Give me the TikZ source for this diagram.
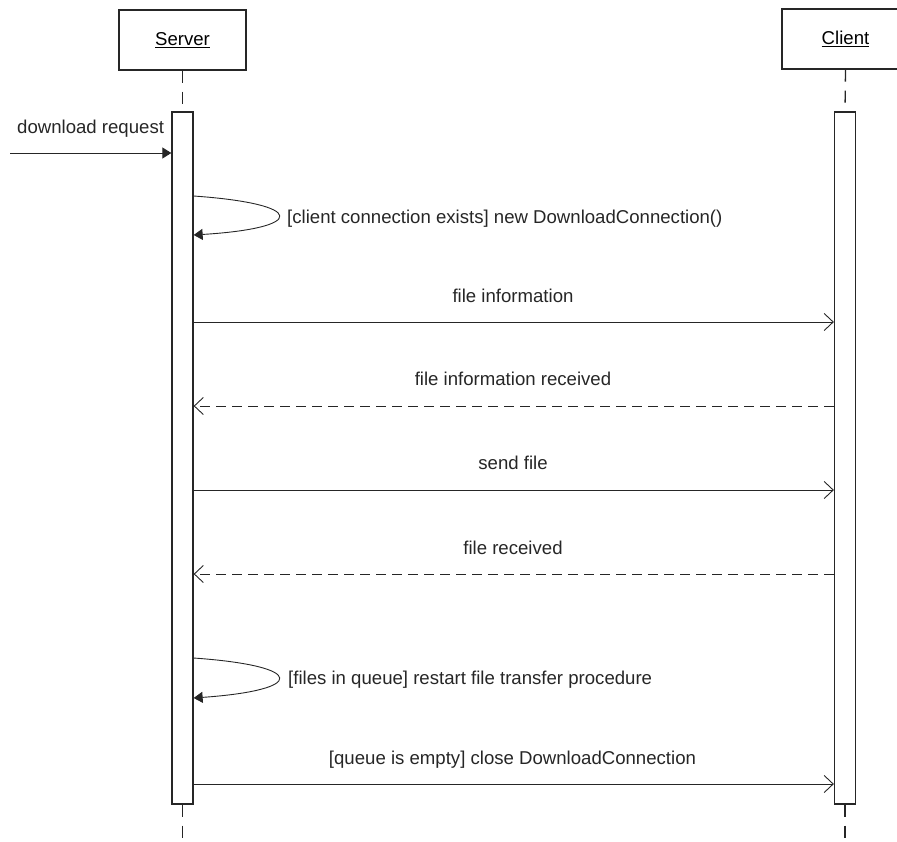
\documentclass[tikz,border=0pt]{standalone}
\usepackage{fontspec}
\setmainfont{Liberation Sans}
\usetikzlibrary{arrows.meta}
\begin{document}
\begin{tikzpicture}[x=1pt,y=-1pt,
  actor/.style={draw=black!85,line width=1.3pt,minimum width=127pt,minimum height=60pt,inner sep=0pt,font=\fontsize{18.6}{22}\selectfont},
  act/.style={draw=black!85,line width=1.3pt,fill=white,minimum width=21pt,minimum height=692pt,inner sep=0pt},
  lifeline/.style={draw=black!85,line width=1.3pt,dash pattern=on 12pt off 9pt},
  msgsync/.style={draw=black!85,line width=0.9pt,-{Triangle[length=9pt,width=11pt]}},
  msg/.style={draw=black!85,line width=0.9pt,-{Straight Barb[length=9pt,width=17pt,line width=0.9pt]}},
  reply/.style={msg,dash pattern=on 10pt off 6pt},
  lbl/.style={anchor=base,inner sep=0pt,text=black!85,font=\fontsize{18.6}{22}\selectfont},
]
\useasboundingbox (0,0) rectangle (897,841);
\clip (0,0) rectangle (897,841);
\node[actor] (server) at (182.5,40) {\underline{Server}};
\node[actor] (client) at (845.5,39) {\underline{Client}};
\coordinate (sEnd) at (182.5,845);
\coordinate (cEnd) at (845,845);
\node[act] (sa) at (182.5,458) {};
\node[act] (ca) at (845,458) {};
\draw[lifeline] (server.south) -- (sa.north);
\draw[lifeline] (client.south) -- (ca.north);
\draw[lifeline] (sa.south) -- (sEnd);
\draw[lifeline] (ca.south) -- (cEnd);
% found message
\coordinate (dl) at (10,153);
\draw[msgsync] (dl) -- (sa.west |- dl);
\node[lbl,anchor=base west] (dlL) at (17,133) {download request};
% self call 1
\coordinate (s1a) at (sa.east |- 0,196);
\coordinate (s1b) at (sa.east |- 0,235);
\draw[msgsync] (s1a) .. controls (307,204) and (307,228) .. (s1b);
\node[lbl,anchor=base west] (s1L) at (287,223) {[client connection exists] new DownloadConnection()};
% file information
\coordinate (m1a) at (sa.east |- 0,322);
\coordinate (m1b) at (ca.west |- 0,322);
\draw[msg] (m1a) -- (m1b);
\node[lbl] (m1L) at (513,302) {file information};
% reply
\coordinate (m2a) at (ca.west |- 0,406);
\coordinate (m2b) at (sa.east |- 0,406);
\draw[reply] (m2a) -- (m2b);
\node[lbl] (m2L) at (513,385) {file information received};
% send file
\coordinate (m3a) at (sa.east |- 0,490);
\coordinate (m3b) at (ca.west |- 0,490);
\draw[msg] (m3a) -- (m3b);
\node[lbl] (m3L) at (513,469) {send file};
% file received
\coordinate (m4a) at (ca.west |- 0,574);
\coordinate (m4b) at (sa.east |- 0,574);
\draw[reply] (m4a) -- (m4b);
\node[lbl] (m4L) at (513,554) {file received};
% self call 2
\coordinate (s2a) at (sa.east |- 0,658);
\coordinate (s2b) at (sa.east |- 0,698);
\draw[msgsync] (s2a) .. controls (307,666) and (307,690) .. (s2b);
\node[lbl,anchor=base west] (s2L) at (288,684) {[files in queue] restart file transfer procedure};
% close
\coordinate (m5a) at (sa.east |- 0,784);
\coordinate (m5b) at (ca.west |- 0,784);
\draw[msg] (m5a) -- (m5b);
\node[lbl] (m5L) at (512.5,764) {[queue is empty] close DownloadConnection};
\end{tikzpicture}
\end{document}
